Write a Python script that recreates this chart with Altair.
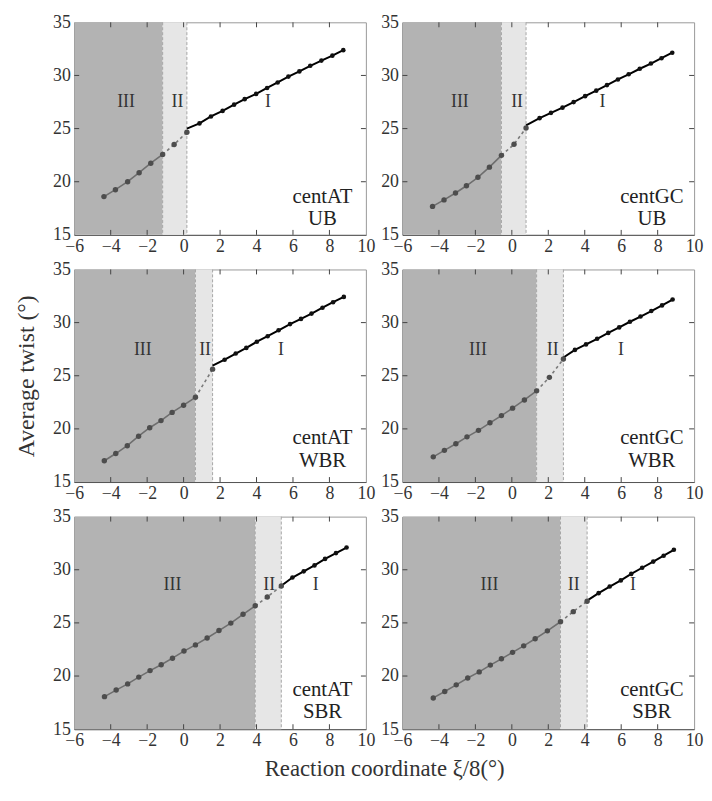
import altair as alt
import pandas as pd

FONT = "Liberation Serif"

X_LABELS = [-6, -4, -2, 0, 2, 4, 6, 8, 10]
Y_LABELS = [15, 20, 25, 30, 35]
X_INNER = [-4, -2, 0, 2, 4, 6, 8]
Y_INNER = [20, 25, 30]

# centAT UB
AT_UB_X = [-4.37, -3.74, -3.07, -2.44, -1.80, -1.15, -0.52, 0.18, 0.87, 1.50, 2.14,
           2.77, 3.35, 3.98, 4.58, 5.16, 5.75, 6.35, 6.95, 7.56, 8.16, 8.76]
AT_UB_Y = [18.6, 19.25, 20.0, 20.85, 21.74, 22.57, 23.5, 24.66, 25.49, 26.14, 26.66,
           27.25, 27.77, 28.26, 28.82, 29.34, 29.89, 30.38, 30.91, 31.4, 31.86, 32.38]
# centGC UB
GC_UB_X = [-4.35, -3.72, -3.09, -2.49, -1.86, -1.23, -0.57, 0.12, 0.78, 1.52, 2.15,
           2.78, 3.39, 4.02, 4.63, 5.22, 5.82, 6.41, 7.02, 7.63, 8.21, 8.80]
GC_UB_Y = [17.68, 18.29, 18.94, 19.62, 20.42, 21.37, 22.48, 23.52, 25.06, 25.98, 26.48,
           26.97, 27.49, 28.05, 28.57, 29.09, 29.62, 30.11, 30.63, 31.12, 31.62, 32.14]
# centAT WBR
AT_WBR_X = [-4.35, -3.72, -3.09, -2.47, -1.86, -1.24, -0.63, 0.0, 0.65, 1.59, 2.25,
            2.86, 3.44, 4.02, 4.61, 5.21, 5.84, 6.44, 7.02, 7.62, 8.20, 8.79]
AT_WBR_Y = [17.0, 17.68, 18.42, 19.31, 20.11, 20.78, 21.55, 22.23, 22.97, 25.62, 26.51,
            27.09, 27.62, 28.2, 28.72, 29.28, 29.86, 30.35, 30.85, 31.4, 31.92, 32.42]
# centGC WBR
GC_WBR_X = [-4.31, -3.70, -3.07, -2.46, -1.83, -1.20, -0.57, 0.04, 0.69, 1.36, 2.06,
            2.83, 3.46, 4.07, 4.68, 5.29, 5.89, 6.48, 7.06, 7.65, 8.24, 8.82]
GC_WBR_Y = [17.37, 17.98, 18.6, 19.25, 19.86, 20.57, 21.25, 21.95, 22.72, 23.58, 24.85,
            26.57, 27.43, 27.95, 28.48, 29.03, 29.55, 30.08, 30.57, 31.09, 31.62, 32.17]
# centAT SBR
AT_SBR_X = [-4.34, -3.70, -3.07, -2.46, -1.84, -1.23, -0.61, 0.02, 0.65, 1.29, 1.94,
            2.59, 3.26, 3.93, 4.59, 5.36, 5.97, 6.59, 7.18, 7.76, 8.36, 8.94]
AT_SBR_Y = [18.06, 18.68, 19.26, 19.9, 20.51, 21.06, 21.68, 22.35, 22.93, 23.58, 24.28,
            24.98, 25.81, 26.61, 27.44, 28.48, 29.27, 29.85, 30.41, 31.02, 31.57, 32.09]
# centGC SBR
GC_SBR_X = [-4.31, -3.68, -3.05, -2.42, -1.79, -1.18, -0.57, 0.04, 0.65, 1.28, 1.95,
            2.67, 3.37, 4.13, 4.76, 5.37, 5.98, 6.55, 7.15, 7.76, 8.33, 8.89]
GC_SBR_Y = [17.94, 18.55, 19.17, 19.81, 20.39, 21.03, 21.62, 22.23, 22.84, 23.51, 24.25,
            25.11, 26.06, 27.04, 27.8, 28.42, 29.0, 29.61, 30.19, 30.77, 31.32, 31.88]

# region boundaries (III|II, II|I) and start of the regime-I fit line
BOUNDS = {"AT_UB": (-1.15, 0.18), "GC_UB": (-0.57, 0.78), "AT_WBR": (0.65, 1.59),
          "GC_WBR": (1.36, 2.83), "AT_SBR": (3.93, 5.36), "GC_SBR": (2.67, 4.13)}
FIT_START = {"AT_UB": 25.0, "GC_UB": 25.3, "AT_WBR": 25.95,
             "GC_WBR": 26.72, "AT_SBR": 28.5, "GC_SBR": 27.1}
REGION_NAMES = ["III", "II", "I"]
REGION_LABEL_X = {"AT_UB": [-3.16, -0.34, 4.63], "GC_UB": [-2.85, 0.29, 4.97],
                  "AT_WBR": [-2.24, 1.18, 5.34], "GC_WBR": [-1.86, 2.24, 5.98],
                  "AT_SBR": [-0.61, 4.70, 7.25], "GC_SBR": [-1.23, 3.39, 6.64]}
REGION_LABEL_Y = {"UB": 27.45, "WBR": 27.45, "SBR": 28.6}
NAME_POS = {"UB": (18.55, 16.45), "WBR": (19.1, 17.0), "SBR": (18.7, 16.6)}
NAME_X = {"AT": 7.62, "GC": 7.68}

SERIES = {"AT_UB": (AT_UB_X, AT_UB_Y), "GC_UB": (GC_UB_X, GC_UB_Y),
          "AT_WBR": (AT_WBR_X, AT_WBR_Y), "GC_WBR": (GC_WBR_X, GC_WBR_Y),
          "AT_SBR": (AT_SBR_X, AT_SBR_Y), "GC_SBR": (GC_SBR_X, GC_SBR_Y)}
ORDER = ["AT_UB", "GC_UB", "AT_WBR", "GC_WBR", "AT_SBR", "GC_SBR"]

W, H = 295, 215
XS = alt.Scale(domain=[-6, 10], nice=False, zero=False)
YS = alt.Scale(domain=[15, 35], nice=False, zero=False)


def panel(key):
    seq, state = key.split("_")
    xs, ys = SERIES[key]
    b1, b2 = BOUNDS[key]
    eps = 0.01
    pts = pd.DataFrame({"x": xs, "y": ys})
    p3 = pts[pts.x <= b1 + eps]
    p2 = pts[(pts.x >= b1 - eps) & (pts.x <= b2 + eps)]
    p1 = pts[pts.x > b2 + eps]
    gray = pts[pts.x <= b2 + eps]
    line1 = pd.concat([pd.DataFrame({"x": [b2], "y": [FIT_START[key]]}), p1])

    xtitle = "Reaction coordinate \u03be/8(\u00b0)" if key == "AT_SBR" else ""
    ytitle = "Average twist (\u00b0)" if key == "AT_WBR" else ""
    ax = alt.Axis(values=X_LABELS, ticks=False, grid=False, domainColor="#555",
                  labelFont=FONT, labelFontSize=18, labelColor="#333",
                  labelPadding=3, labelFlush=False, labelOverlap=False,
                  title=xtitle, titleFont=FONT, titleFontSize=23,
                  titleFontWeight="normal", titleColor="#333",
                  titleX=(2 * W + 37) / 2, titlePadding=8)
    ay = alt.Axis(values=Y_LABELS, ticks=False, grid=False, domainColor="#555",
                  labelFont=FONT, labelFontSize=18, labelColor="#333",
                  labelPadding=4, labelFlush=False, labelOverlap=False,
                  title=ytitle, titleFont=FONT, titleFontSize=24,
                  titleFontWeight="normal", titleColor="#333", titlePadding=14)
    X = lambda f="x": alt.X(f"{f}:Q", scale=XS, axis=ax)
    Y = lambda f="y": alt.Y(f"{f}:Q", scale=YS, axis=ay)

    dark = alt.Chart(pd.DataFrame({"x": [-6], "x2": [b1]})).mark_rect(
        color="#b3b3b3").encode(x=X(), x2="x2:Q", y=alt.value(0), y2=alt.value(H))
    light = alt.Chart(pd.DataFrame({"x": [b1], "x2": [b2]})).mark_rect(
        color="#e6e6e6").encode(x=X(), x2="x2:Q", y=alt.value(0), y2=alt.value(H))
    bnd = alt.Chart(pd.DataFrame({"x": [b1, b2]})).mark_rule(
        color="#a6a6a6", strokeDash=[3, 2], strokeWidth=1).encode(
        x=X(), y=alt.value(0), y2=alt.value(H))

    xt = pd.DataFrame({"x": X_INNER})
    yt = pd.DataFrame({"y": Y_INNER})
    tb = alt.Chart(xt).mark_rule(color="#444").encode(x=X(), y=alt.value(H), y2=alt.value(H - 5))
    tt = alt.Chart(xt).mark_rule(color="#444").encode(x=X(), y=alt.value(0), y2=alt.value(5))
    tl = alt.Chart(yt).mark_rule(color="#444").encode(y=Y(), x=alt.value(0), x2=alt.value(5))
    tr = alt.Chart(yt).mark_rule(color="#444").encode(y=Y(), x=alt.value(W - 5), x2=alt.value(W))

    l3 = alt.Chart(p3).mark_line(color="#6e6e6e", strokeWidth=1.6).encode(x=X(), y=Y())
    l2 = alt.Chart(p2).mark_line(color="#7a7a7a", strokeWidth=1.6, strokeDash=[3, 3]).encode(x=X(), y=Y())
    l1 = alt.Chart(line1).mark_line(color="#000", strokeWidth=2).encode(x=X(), y=Y())
    cg = alt.Chart(gray).mark_circle(color="#4d4d4d", size=30, opacity=1).encode(x=X(), y=Y())
    cb = alt.Chart(p1).mark_circle(color="#111", size=22, opacity=1).encode(x=X(), y=Y())

    rl = pd.DataFrame({"x": REGION_LABEL_X[key], "y": [REGION_LABEL_Y[state]] * 3,
                       "t": REGION_NAMES})
    rtext = alt.Chart(rl).mark_text(font=FONT, fontSize=18, color="#333").encode(
        x=X(), y=Y(), text="t:N")
    ny1, ny2 = NAME_POS[state]
    nl = pd.DataFrame({"x": [NAME_X[seq]] * 2, "y": [ny1, ny2], "t": ["cent" + seq, state]})
    ntext = alt.Chart(nl).mark_text(font=FONT, fontSize=21, color="#222").encode(
        x=X(), y=Y(), text="t:N")

    return alt.layer(dark, light, bnd, tb, tt, tl, tr, l3, l2, l1, cg, cb, rtext, ntext).properties(
        width=W, height=H)


chart = alt.concat(*[panel(k) for k in ORDER], columns=2,
                   spacing={"row": 35, "column": 37}, bounds="flush").properties(
    padding={"left": 6, "top": 0, "right": 0, "bottom": 0}
).configure(font=FONT).configure_view(stroke="#999", strokeWidth=1).configure_axis(
    labelFont=FONT, titleFont=FONT, titleFontWeight="normal"
).configure_text(font=FONT)

chart.save("out.html", embed_options={"renderer": "svg", "actions": False})
